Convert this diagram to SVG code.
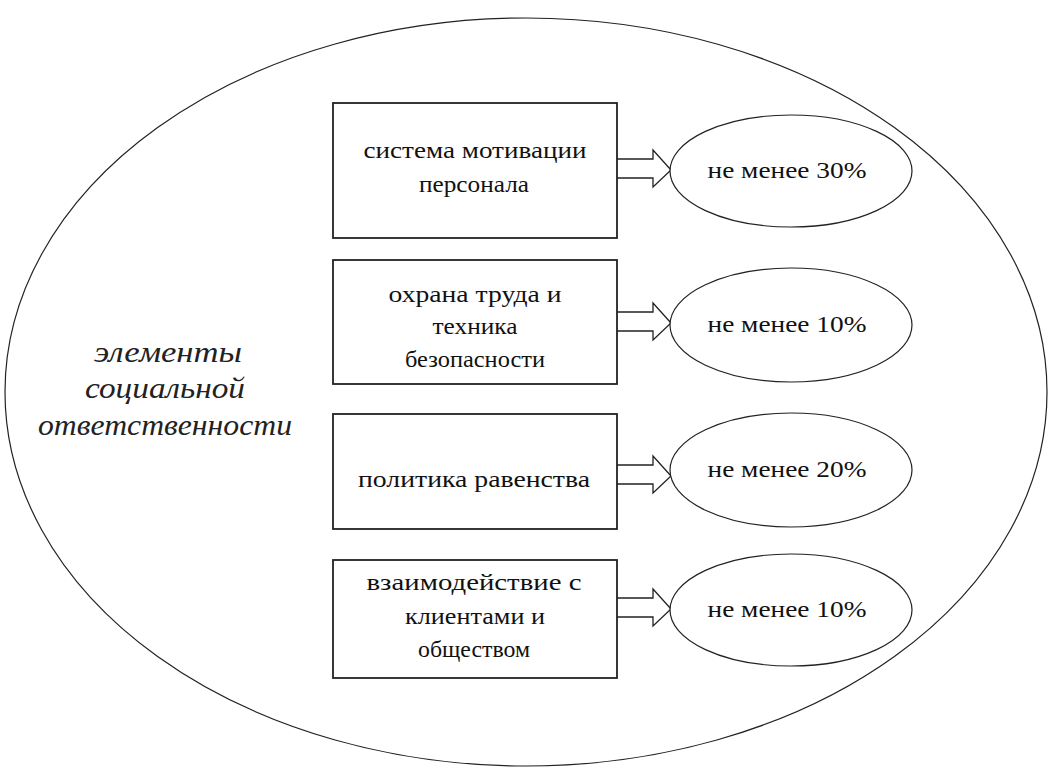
<svg xmlns="http://www.w3.org/2000/svg" width="1050" height="769" viewBox="0 0 1050 769">
<style>
.bx{fill:#fff;stroke:#222;stroke-width:1.8}
.el{fill:#fff;stroke:#222;stroke-width:1.2}
.ar{fill:#fff;stroke:#222;stroke-width:1.3;stroke-linejoin:miter}
.t{font-family:"Liberation Serif","Times New Roman",serif;font-size:23px;fill:#111;text-anchor:middle}
.it{font-family:"Liberation Serif","Times New Roman",serif;font-size:30px;font-style:italic;fill:#222;text-anchor:middle}
</style>
<rect width="1050" height="769" fill="#fff"/>
<g id="outer">
<ellipse class="el" cx="526" cy="392" rx="521" ry="374"/>
<text class="it" x="168" y="362" textLength="148" lengthAdjust="spacingAndGlyphs">элементы</text>
<text class="it" x="165" y="398" textLength="160" lengthAdjust="spacingAndGlyphs">социальной</text>
<text class="it" x="165" y="435" textLength="254" lengthAdjust="spacingAndGlyphs">ответственности</text>
</g>
<g id="connectors">
<path class="ar" d="M617,159 H653 V150 L671,170 L653,187 V178 H617"/>
<path class="ar" d="M617,312 H653 V303 L671,323 L653,340 V331 H617"/>
<path class="ar" d="M617,465 H653 V456 L671,476 L653,493 V484 H617"/>
<path class="ar" d="M617,598 H653 V589 L671,609 L653,626 V617 H617"/>
</g>
<g id="box1">
<rect class="bx" x="333" y="103" width="284" height="135"/>
<text class="t" x="475" y="158" textLength="223" lengthAdjust="spacingAndGlyphs">система мотивации</text>
<text class="t" x="474" y="192" textLength="110" lengthAdjust="spacingAndGlyphs">персонала</text>
</g>
<g id="box2">
<rect class="bx" x="333" y="260" width="284" height="124"/>
<text class="t" x="475" y="302" textLength="173" lengthAdjust="spacingAndGlyphs">охрана труда и</text>
<text class="t" x="475" y="334" textLength="85" lengthAdjust="spacingAndGlyphs">техника</text>
<text class="t" x="475" y="367" textLength="140" lengthAdjust="spacingAndGlyphs">безопасности</text>
</g>
<g id="box3">
<rect class="bx" x="333" y="414" width="284" height="115"/>
<text class="t" x="474" y="487" textLength="232" lengthAdjust="spacingAndGlyphs">политика равенства</text>
</g>
<g id="box4">
<rect class="bx" x="333" y="560" width="284" height="118"/>
<text class="t" x="474" y="590" textLength="215" lengthAdjust="spacingAndGlyphs">взаимодействие с</text>
<text class="t" x="475" y="624" textLength="140" lengthAdjust="spacingAndGlyphs">клиентами и</text>
<text class="t" x="474" y="657" textLength="112" lengthAdjust="spacingAndGlyphs">обществом</text>
</g>
<g id="e1">
<ellipse class="el" cx="791" cy="171" rx="121" ry="56"/>
<text class="t" x="787" y="178" textLength="159" lengthAdjust="spacingAndGlyphs">не менее 30%</text>
</g>
<g id="e2">
<ellipse class="el" cx="791" cy="325" rx="121" ry="57"/>
<text class="t" x="787" y="332" textLength="159" lengthAdjust="spacingAndGlyphs">не менее 10%</text>
</g>
<g id="e3">
<ellipse class="el" cx="791" cy="470" rx="121" ry="57"/>
<text class="t" x="787" y="477" textLength="159" lengthAdjust="spacingAndGlyphs">не менее 20%</text>
</g>
<g id="e4">
<ellipse class="el" cx="791" cy="610" rx="121" ry="56"/>
<text class="t" x="787" y="617" textLength="159" lengthAdjust="spacingAndGlyphs">не менее 10%</text>
</g>
</svg>
